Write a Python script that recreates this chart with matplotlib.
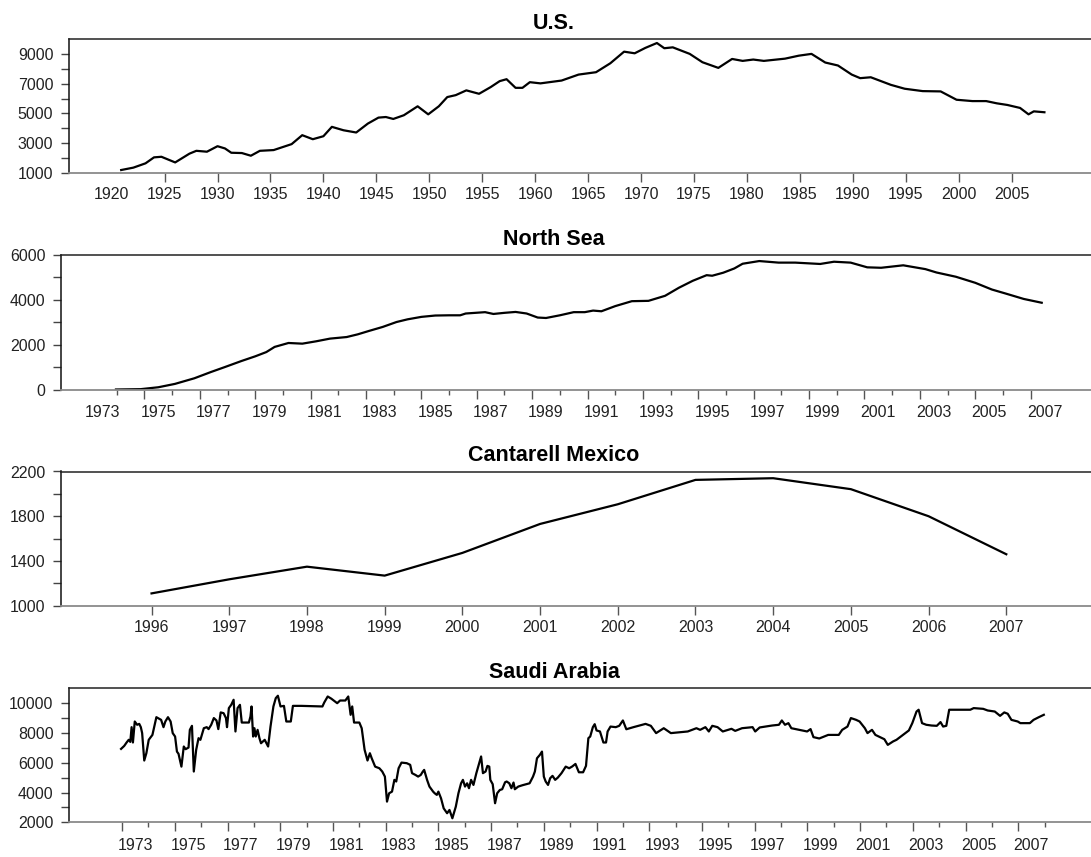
import matplotlib
matplotlib.use("Agg")
import matplotlib.pyplot as plt
import numpy as np

plt.rcParams['font.family'] = ['Liberation Sans', 'DejaVu Sans']

# ---------------- data ----------------
us_year = [1920.9, 1922.05, 1923.2, 1924.0, 1924.7, 1926.0, 1927.35, 1928.0, 1929.0, 1930.0,
           1930.7, 1931.3, 1932.3, 1933.15, 1934.0, 1935.3, 1937.0, 1938.0, 1939.0, 1940.0,
           1940.8, 1941.9, 1943.1, 1944.2, 1945.2, 1945.9, 1946.6, 1947.6, 1948.9, 1949.9,
           1950.9, 1951.7, 1952.5, 1953.5, 1954.7, 1955.8, 1956.65, 1957.3, 1958.15, 1958.8,
           1959.5, 1960.5, 1962.5, 1964.1, 1965.75, 1967.1, 1968.4, 1969.4, 1970.4, 1971.5,
           1972.2, 1973.0, 1974.6, 1975.8, 1977.3, 1978.6, 1979.6, 1980.6, 1981.6, 1983.6,
           1984.9, 1986.1, 1987.4, 1988.6, 1989.9, 1990.7, 1991.7, 1993.6, 1994.9, 1996.6,
           1998.3, 1999.8, 2001.3, 2002.6, 2003.6, 2004.6, 2005.8, 2006.6, 2007.1, 2008.1]
us_val = [1200, 1360, 1650, 2050, 2090, 1710, 2300, 2490, 2430, 2800,
          2650, 2360, 2340, 2160, 2490, 2540, 2940, 3540, 3270, 3470,
          4100, 3870, 3720, 4320, 4720, 4760, 4630, 4880, 5480, 4940,
          5480, 6100, 6230, 6550, 6320, 6770, 7170, 7300, 6720, 6720,
          7100, 7020, 7210, 7610, 7770, 8370, 9150, 9040, 9400, 9730,
          9380, 9440, 9000, 8440, 8060, 8660, 8530, 8620, 8530, 8680,
          8880, 9000, 8420, 8220, 7610, 7370, 7430, 6920, 6660, 6500,
          6480, 5920, 5830, 5830, 5680, 5570, 5370, 4940, 5140, 5080]

ns_year = [1973.97, 1974.86, 1975.5, 1976.1, 1976.8, 1977.4, 1977.9, 1978.5, 1979.0, 1979.4,
           1979.7, 1980.2, 1980.7, 1981.2, 1981.7, 1982.3, 1982.7, 1983.1, 1983.6, 1984.1,
           1984.5, 1985.0, 1985.5, 1986.0, 1986.4, 1986.6, 1987.3, 1987.6, 1988.0, 1988.4,
           1988.8, 1989.2, 1989.5, 1990.0, 1990.5, 1990.9, 1991.2, 1991.5, 1992.0, 1992.6,
           1993.2, 1993.8, 1994.3, 1994.8, 1995.3, 1995.5, 1995.9, 1996.3, 1996.6, 1997.2,
           1997.9, 1998.5, 1999.4, 1999.9, 2000.5, 2001.1, 2001.6, 2002.4, 2003.2, 2003.6,
           2004.3, 2005.0, 2005.6, 2006.1, 2006.75, 2007.4]
ns_val = [0, 15, 100, 250, 500, 780, 1000, 1270, 1480, 1670,
          1900, 2075, 2045, 2150, 2270, 2340, 2460, 2610, 2790, 3010,
          3130, 3240, 3300, 3310, 3310, 3390, 3450, 3370, 3420, 3460,
          3390, 3210, 3190, 3310, 3450, 3450, 3520, 3490, 3720, 3940,
          3955, 4180, 4540, 4850, 5100, 5075, 5210, 5400, 5610, 5730,
          5660, 5660, 5600, 5700, 5660, 5450, 5430, 5540, 5370, 5220,
          5030, 4760, 4460, 4280, 4040, 3870]

cant_year = [1996, 1997, 1998, 1999, 2000, 2001, 2002, 2003, 2004, 2005, 2006, 2007]
cant_val = [1110, 1236, 1349, 1269, 1472, 1731, 1907, 2125, 2140, 2042, 1800, 1460]

sa_year = [1972.96, 1973.08, 1973.17, 1973.25, 1973.31, 1973.36, 1973.41, 1973.48, 1973.57, 1973.65,
           1973.71, 1973.76, 1973.84, 1973.92, 1974.01, 1974.15, 1974.30, 1974.48, 1974.57, 1974.64,
           1974.74, 1974.84, 1974.92, 1975.01, 1975.08, 1975.14, 1975.25, 1975.34, 1975.41, 1975.52,
           1975.57, 1975.65, 1975.72, 1975.81, 1975.90, 1975.97, 1976.10, 1976.21, 1976.28, 1976.38,
           1976.48, 1976.58, 1976.65, 1976.74, 1976.85, 1976.94, 1976.98, 1977.05, 1977.14, 1977.23,
           1977.30, 1977.38, 1977.47, 1977.54, 1977.81, 1977.87, 1977.91, 1977.97, 1978.02, 1978.07,
           1978.14, 1978.21, 1978.27, 1978.41, 1978.54, 1978.63, 1978.74, 1978.83, 1978.91, 1979.01,
           1979.14, 1979.23, 1979.40, 1979.48, 1979.80, 1980.60, 1980.67, 1980.80, 1980.94, 1981.07,
           1981.16, 1981.27, 1981.47, 1981.58, 1981.67, 1981.73, 1981.80, 1982.00, 1982.09, 1982.20,
           1982.31, 1982.40, 1982.47, 1982.60, 1982.76, 1982.87, 1982.97, 1983.05, 1983.13, 1983.24,
           1983.33, 1983.40, 1983.49, 1983.60, 1983.80, 1983.93, 1984.00, 1984.13, 1984.23, 1984.33,
           1984.41, 1984.46, 1984.57, 1984.66, 1984.80, 1984.86, 1984.94, 1985.00, 1985.10, 1985.20,
           1985.33, 1985.42, 1985.53, 1985.66, 1985.76, 1985.86, 1985.93, 1986.01, 1986.09, 1986.16,
           1986.24, 1986.33, 1986.44, 1986.53, 1986.62, 1986.69, 1986.79, 1986.86, 1986.93, 1986.97,
           1987.06, 1987.15, 1987.23, 1987.33, 1987.42, 1987.53, 1987.59, 1987.69, 1987.77, 1987.85,
           1987.90, 1988.03, 1988.19, 1988.46, 1988.59, 1988.66, 1988.74, 1988.85, 1988.93,
           1989.00, 1989.07, 1989.16, 1989.24, 1989.33, 1989.43, 1989.53, 1989.67, 1989.83, 1989.96,
           1990.07, 1990.20, 1990.33, 1990.49, 1990.60, 1990.69, 1990.76, 1990.86, 1990.93, 1991.00,
           1991.13, 1991.26, 1991.36, 1991.42, 1991.53, 1991.73, 1991.86, 1992.00, 1992.13, 1992.40,
           1992.86, 1993.06, 1993.26, 1993.55, 1993.82, 1994.46, 1994.79, 1994.93, 1995.13, 1995.26,
           1995.39, 1995.59, 1995.79, 1996.12, 1996.26, 1996.52, 1996.92, 1997.02, 1997.19, 1997.66,
           1997.92, 1998.03, 1998.15, 1998.28, 1998.39, 1998.79, 1998.99, 1999.12, 1999.23, 1999.45,
           1999.79, 2000.19, 2000.32, 2000.52, 2000.65, 2000.85, 2000.98, 2001.18, 2001.28, 2001.45,
           2001.58, 2001.76, 2001.92, 2002.05, 2002.25, 2002.38, 2002.58, 2002.85, 2002.98, 2003.14,
           2003.22, 2003.35, 2003.51, 2003.71, 2003.91, 2004.05, 2004.15, 2004.27, 2004.38, 2005.18,
           2005.31, 2005.67, 2005.84, 2006.11, 2006.31, 2006.47, 2006.60, 2006.74, 2006.98, 2007.08,
           2007.44, 2007.58, 2007.78, 2007.97]
sa_val = [6930, 7130, 7360, 7540, 7400, 8390, 7360, 8770, 8550, 8610,
          8390, 7990, 6150, 6640, 7540, 7870, 9060, 8880, 8390, 8770,
          9060, 8770, 7990, 7760, 6750, 6600, 5740, 7090, 6910, 7020,
          8210, 8480, 5410, 6870, 7650, 7540, 8320, 8390, 8260, 8550,
          9000, 8840, 8260, 9380, 9330, 9000, 8390, 9670, 9890, 10230,
          8100, 9670, 9890, 8700, 8700, 9110, 9780, 7760, 8320, 7760,
          8210, 7650, 7310, 7540, 7090, 8430, 9780, 10340, 10500, 9780,
          9820, 8770, 8770, 9820, 9820, 9780, 10050, 10450, 10300, 10120,
          10000, 10180, 10180, 10450, 9220, 9780, 8700, 8700, 8320, 6870,
          6150, 6640, 6300, 5740, 5630, 5410, 5070, 3390, 3950, 4060,
          4850, 4740, 5630, 6010, 5970, 5860, 5300, 5180, 5070, 5180,
          5410, 5520, 4850, 4400, 4060, 3950, 3840, 4060, 3610, 2940,
          2610, 2830, 2270, 3050, 3950, 4620, 4850, 4400, 4620, 4290,
          4850, 4510, 5300, 5860, 6420, 5300, 5410, 5790, 5740, 4850,
          4560, 3280, 3950, 4170, 4220, 4690, 4740, 4620, 4290, 4670,
          4220, 4400, 4490, 4620, 5070, 5410, 6300, 6530, 6750,
          5070, 4740, 4510, 4960, 5120, 4850, 5000, 5300, 5740, 5630,
          5740, 5920, 5360, 5360, 5790, 7650, 7760, 8390, 8590, 8170,
          8100, 7360, 7360, 8100, 8430, 8390, 8480, 8840, 8250, 8390,
          8610, 8480, 7990, 8320, 7990, 8100, 8320, 8210, 8390, 8100,
          8480, 8390, 8100, 8280, 8140, 8320, 8390, 8100, 8370, 8500,
          8550, 8840, 8550, 8660, 8320, 8170, 8100, 8260, 7720, 7630,
          7870, 7870, 8210, 8430, 9000, 8880, 8770, 8320, 7990, 8210,
          7870, 7720, 7580, 7200, 7430, 7540, 7810, 8170, 8660, 9440,
          9560, 8660, 8550, 8500, 8480, 8730, 8430, 8480, 9560, 9560,
          9670, 9620, 9510, 9440, 9150, 9380, 9290, 8880, 8770, 8660,
          8660, 8880, 9060, 9220]

us_ticks = [1925, 1930, 1935, 1940, 1945, 1950, 1955, 1960, 1965, 1970, 1975, 1980,
            1985, 1990, 1995, 2000, 2005]
us_labels = [1920] + us_ticks
ns_label_years = list(range(1973, 2008, 2))
ns_major = list(range(1975, 2008, 2))
ns_minor = list(range(1974, 2007, 2))
sa_label_years = list(range(1973, 2008, 2))
sa_major = list(range(1973, 2008, 2))
sa_minor = list(range(1974, 2009, 2))

# ---------------- figure ----------------
W, H = 1091, 857
fig = plt.figure(figsize=(W / 100, H / 100), dpi=100)
TITLE_X = 554  # pixel centre of all panel titles

def add_ax(left, top, bottom):
    return fig.add_axes([left / W, 1 - bottom / H, 1 - left / W, (bottom - top) / H])

LABEL_FS = 11.5
TITLE_FS = 15.5

def style(ax, title, left):
    ax.spines['right'].set_visible(False)
    ax.spines['top'].set_color('#222222')
    ax.spines['top'].set_linewidth(1.1)
    ax.spines['bottom'].set_color('#8a8a8a')
    ax.spines['bottom'].set_linewidth(1.3)
    ax.spines['left'].set_color('#111111')
    ax.spines['left'].set_linewidth(1.1)
    ax.set_title(title, fontsize=TITLE_FS, fontweight='bold', pad=7.5,
                 x=(TITLE_X - left) / (W - left))
    ax.tick_params(axis='y', which='both', direction='out', length=6, width=1.0,
                   color='#444444', pad=5.5, labelsize=LABEL_FS, labelcolor='#222222')
    ax.tick_params(axis='x', which='major', direction='out', length=6.5, width=1.0,
                   color='#555555', pad=3.5, labelsize=LABEL_FS, labelcolor='#222222')
    ax.tick_params(axis='x', which='minor', direction='out', length=3.5, width=1.0,
                   color='#555555')

LW = 1.6

# U.S.
L1 = 69.3
ax1 = add_ax(L1, 39, 173)
ax1.plot(us_year, us_val, color='black', lw=LW, solid_joinstyle='round')
ax1.set_xlim(1916.0, 2012.5)
ax1.set_ylim(1000, 10000)
ax1.set_yticks([1000, 3000, 5000, 7000, 9000])
ax1.set_yticks([2000, 4000, 6000, 8000], minor=True)
ax1.set_xticks(us_labels, labels=[str(y) for y in us_labels])
style(ax1, 'U.S.', L1)
ax1.get_xaxis().get_major_ticks()[0].tick1line.set_visible(False)

# North Sea
L2 = 61.4
ax2 = add_ax(L2, 255, 389.5)
ax2.plot(ns_year, ns_val, color='black', lw=LW, solid_joinstyle='round')
ax2.set_xlim(1972.0, 2009.18)
ax2.set_ylim(0, 6000)
ax2.set_yticks([0, 2000, 4000, 6000])
ax2.set_yticks([1000, 3000, 5000], minor=True)
ax2.set_xticks(ns_major)
ax2.set_xticks(ns_minor, minor=True)
style(ax2, 'North Sea', L2)
ax2.tick_params(axis='x', which='both', labelbottom=False)
sec2 = ax2.secondary_xaxis('bottom')
sec2.set_xticks([y + 0.5 for y in ns_label_years], labels=[str(y) for y in ns_label_years])
sec2.tick_params(axis='x', length=0, pad=11, labelsize=LABEL_FS, labelcolor='#222222')
sec2.spines['bottom'].set_visible(False)

# Cantarell Mexico
L3 = 61.4
ax3 = add_ax(L3, 471.5, 605.7)
ax3.plot(cant_year, cant_val, color='black', lw=LW, solid_joinstyle='round')
ax3.set_xlim(1994.84, 2008.09)
ax3.set_ylim(1000, 2200)
ax3.set_yticks([1000, 1400, 1800, 2200])
ax3.set_yticks([1200, 1600, 2000], minor=True)
ax3.set_xticks(cant_year, labels=[str(y) for y in cant_year])
style(ax3, 'Cantarell Mexico', L3)

# Saudi Arabia
L4 = 69.4
ax4 = add_ax(L4, 688.3, 822.3)
ax4.plot(sa_year, sa_val, color='black', lw=LW, solid_joinstyle='round')
ax4.set_xlim(1971.0, 2009.76)
ax4.set_ylim(2000, 11000)
ax4.set_yticks([2000, 4000, 6000, 8000, 10000])
ax4.set_yticks([3000, 5000, 7000, 9000], minor=True)
ax4.set_xticks(sa_major)
ax4.set_xticks(sa_minor, minor=True)
style(ax4, 'Saudi Arabia', L4)
ax4.tick_params(axis='x', which='both', labelbottom=False)
sec4 = ax4.secondary_xaxis('bottom')
sec4.set_xticks([y + 0.5 for y in sa_label_years], labels=[str(y) for y in sa_label_years])
sec4.tick_params(axis='x', length=0, pad=11, labelsize=LABEL_FS, labelcolor='#222222')
sec4.spines['bottom'].set_visible(False)

fig.savefig('out.png', dpi=100)
